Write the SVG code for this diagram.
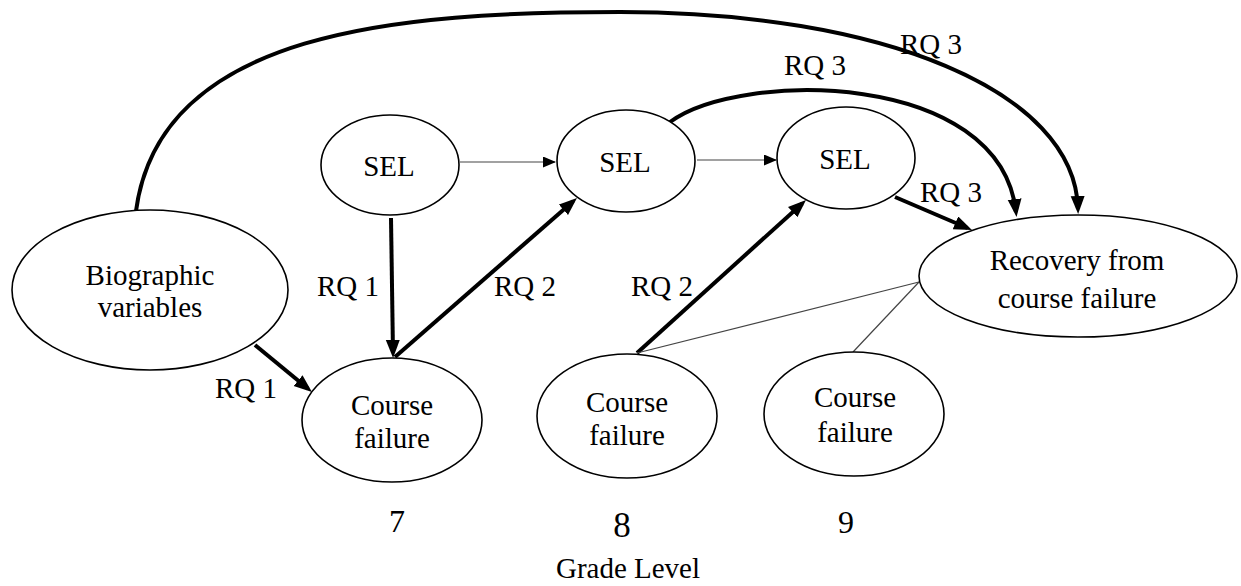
<svg xmlns="http://www.w3.org/2000/svg" width="1241" height="586" viewBox="0 0 1241 586">
<style>
  .node ellipse { fill: #fff; stroke: #000; stroke-width: 1.6; }
  text { font-family: "Liberation Serif", "Times New Roman", serif; font-size: 29px; fill: #000; text-anchor: middle; }
  .thick { fill: none; stroke: #000; stroke-width: 4; }
  .thin { fill: none; stroke: #444; stroke-width: 1.2; }
</style>
<defs>
  <marker id="ah" markerUnits="userSpaceOnUse" markerWidth="20" markerHeight="16" refX="13" refY="7" orient="auto">
    <path d="M0,0 L18,7 L0,14 z" fill="#000"/>
  </marker>
  <marker id="ahs" markerUnits="userSpaceOnUse" markerWidth="16" markerHeight="14" refX="12" refY="5.5" orient="auto">
    <path d="M0,0 L13,5.5 L0,11 z" fill="#000"/>
  </marker>
</defs>

<g id="connectors">
  <path class="thick" d="M136,211 C160,30 400,12 620,12 C880,12 1075,90 1078,209" marker-end="url(#ah)"/>
  <path class="thick" d="M670,122 C740,70 1000,70 1016,212" marker-end="url(#ah)"/>
  <line class="thin" x1="460" y1="162" x2="555" y2="162" marker-end="url(#ahs)"/>
  <line class="thin" x1="697" y1="160" x2="776" y2="160" marker-end="url(#ahs)"/>
  <line class="thick" x1="391" y1="218" x2="393" y2="353" marker-end="url(#ah)"/>
  <line class="thick" x1="395" y1="357" x2="573.2" y2="201.3" marker-end="url(#ah)"/>
  <line class="thick" x1="255" y1="345" x2="308.1" y2="388.8" marker-end="url(#ah)"/>
  <line class="thick" x1="637" y1="353" x2="802.3" y2="203.4" marker-end="url(#ah)"/>
  <line class="thick" x1="895" y1="197" x2="967.4" y2="228" marker-end="url(#ah)"/>
  <line class="thin" x1="637" y1="353" x2="919" y2="282"/>
  <line class="thin" x1="853" y1="352" x2="919" y2="282"/>
  <text x="931" y="54">RQ 3</text>
  <text x="815" y="75">RQ 3</text>
  <text x="951" y="202">RQ 3</text>
  <text x="348" y="296">RQ 1</text>
  <text x="525" y="296">RQ 2</text>
  <text x="662" y="296">RQ 2</text>
  <text x="246" y="398">RQ 1</text>
</g>

<g id="node-bio" class="node">
  <ellipse cx="150" cy="290" rx="138" ry="80"/>
  <text x="150" y="285">Biographic</text>
  <text x="150" y="317">variables</text>
</g>
<g id="node-sel7" class="node">
  <ellipse cx="390" cy="165" rx="69" ry="50"/>
  <text x="389" y="176">SEL</text>
</g>
<g id="node-sel8" class="node">
  <ellipse cx="626" cy="161" rx="69" ry="51"/>
  <text x="625" y="172">SEL</text>
</g>
<g id="node-sel9" class="node">
  <ellipse cx="846" cy="158" rx="69" ry="51"/>
  <text x="845" y="169">SEL</text>
</g>
<g id="node-cf7" class="node">
  <ellipse cx="392" cy="420" rx="90" ry="62"/>
  <text x="392" y="415">Course</text>
  <text x="392" y="448">failure</text>
</g>
<g id="node-cf8" class="node">
  <ellipse cx="627" cy="416" rx="90" ry="62"/>
  <text x="627" y="412">Course</text>
  <text x="627" y="445">failure</text>
</g>
<g id="node-cf9" class="node">
  <ellipse cx="854" cy="414" rx="90" ry="62"/>
  <text x="855" y="407">Course</text>
  <text x="855" y="442">failure</text>
</g>
<g id="node-recovery" class="node">
  <ellipse cx="1078" cy="276" rx="159" ry="61"/>
  <text x="1077" y="270">Recovery from</text>
  <text x="1077" y="308">course failure</text>
</g>

<g id="axis">
  <text x="397" y="532" style="font-size:32px">7</text>
  <text x="622" y="537" style="font-size:35px">8</text>
  <text x="846" y="533" style="font-size:32px">9</text>
  <text x="628" y="578">Grade Level</text>
</g>
</svg>
